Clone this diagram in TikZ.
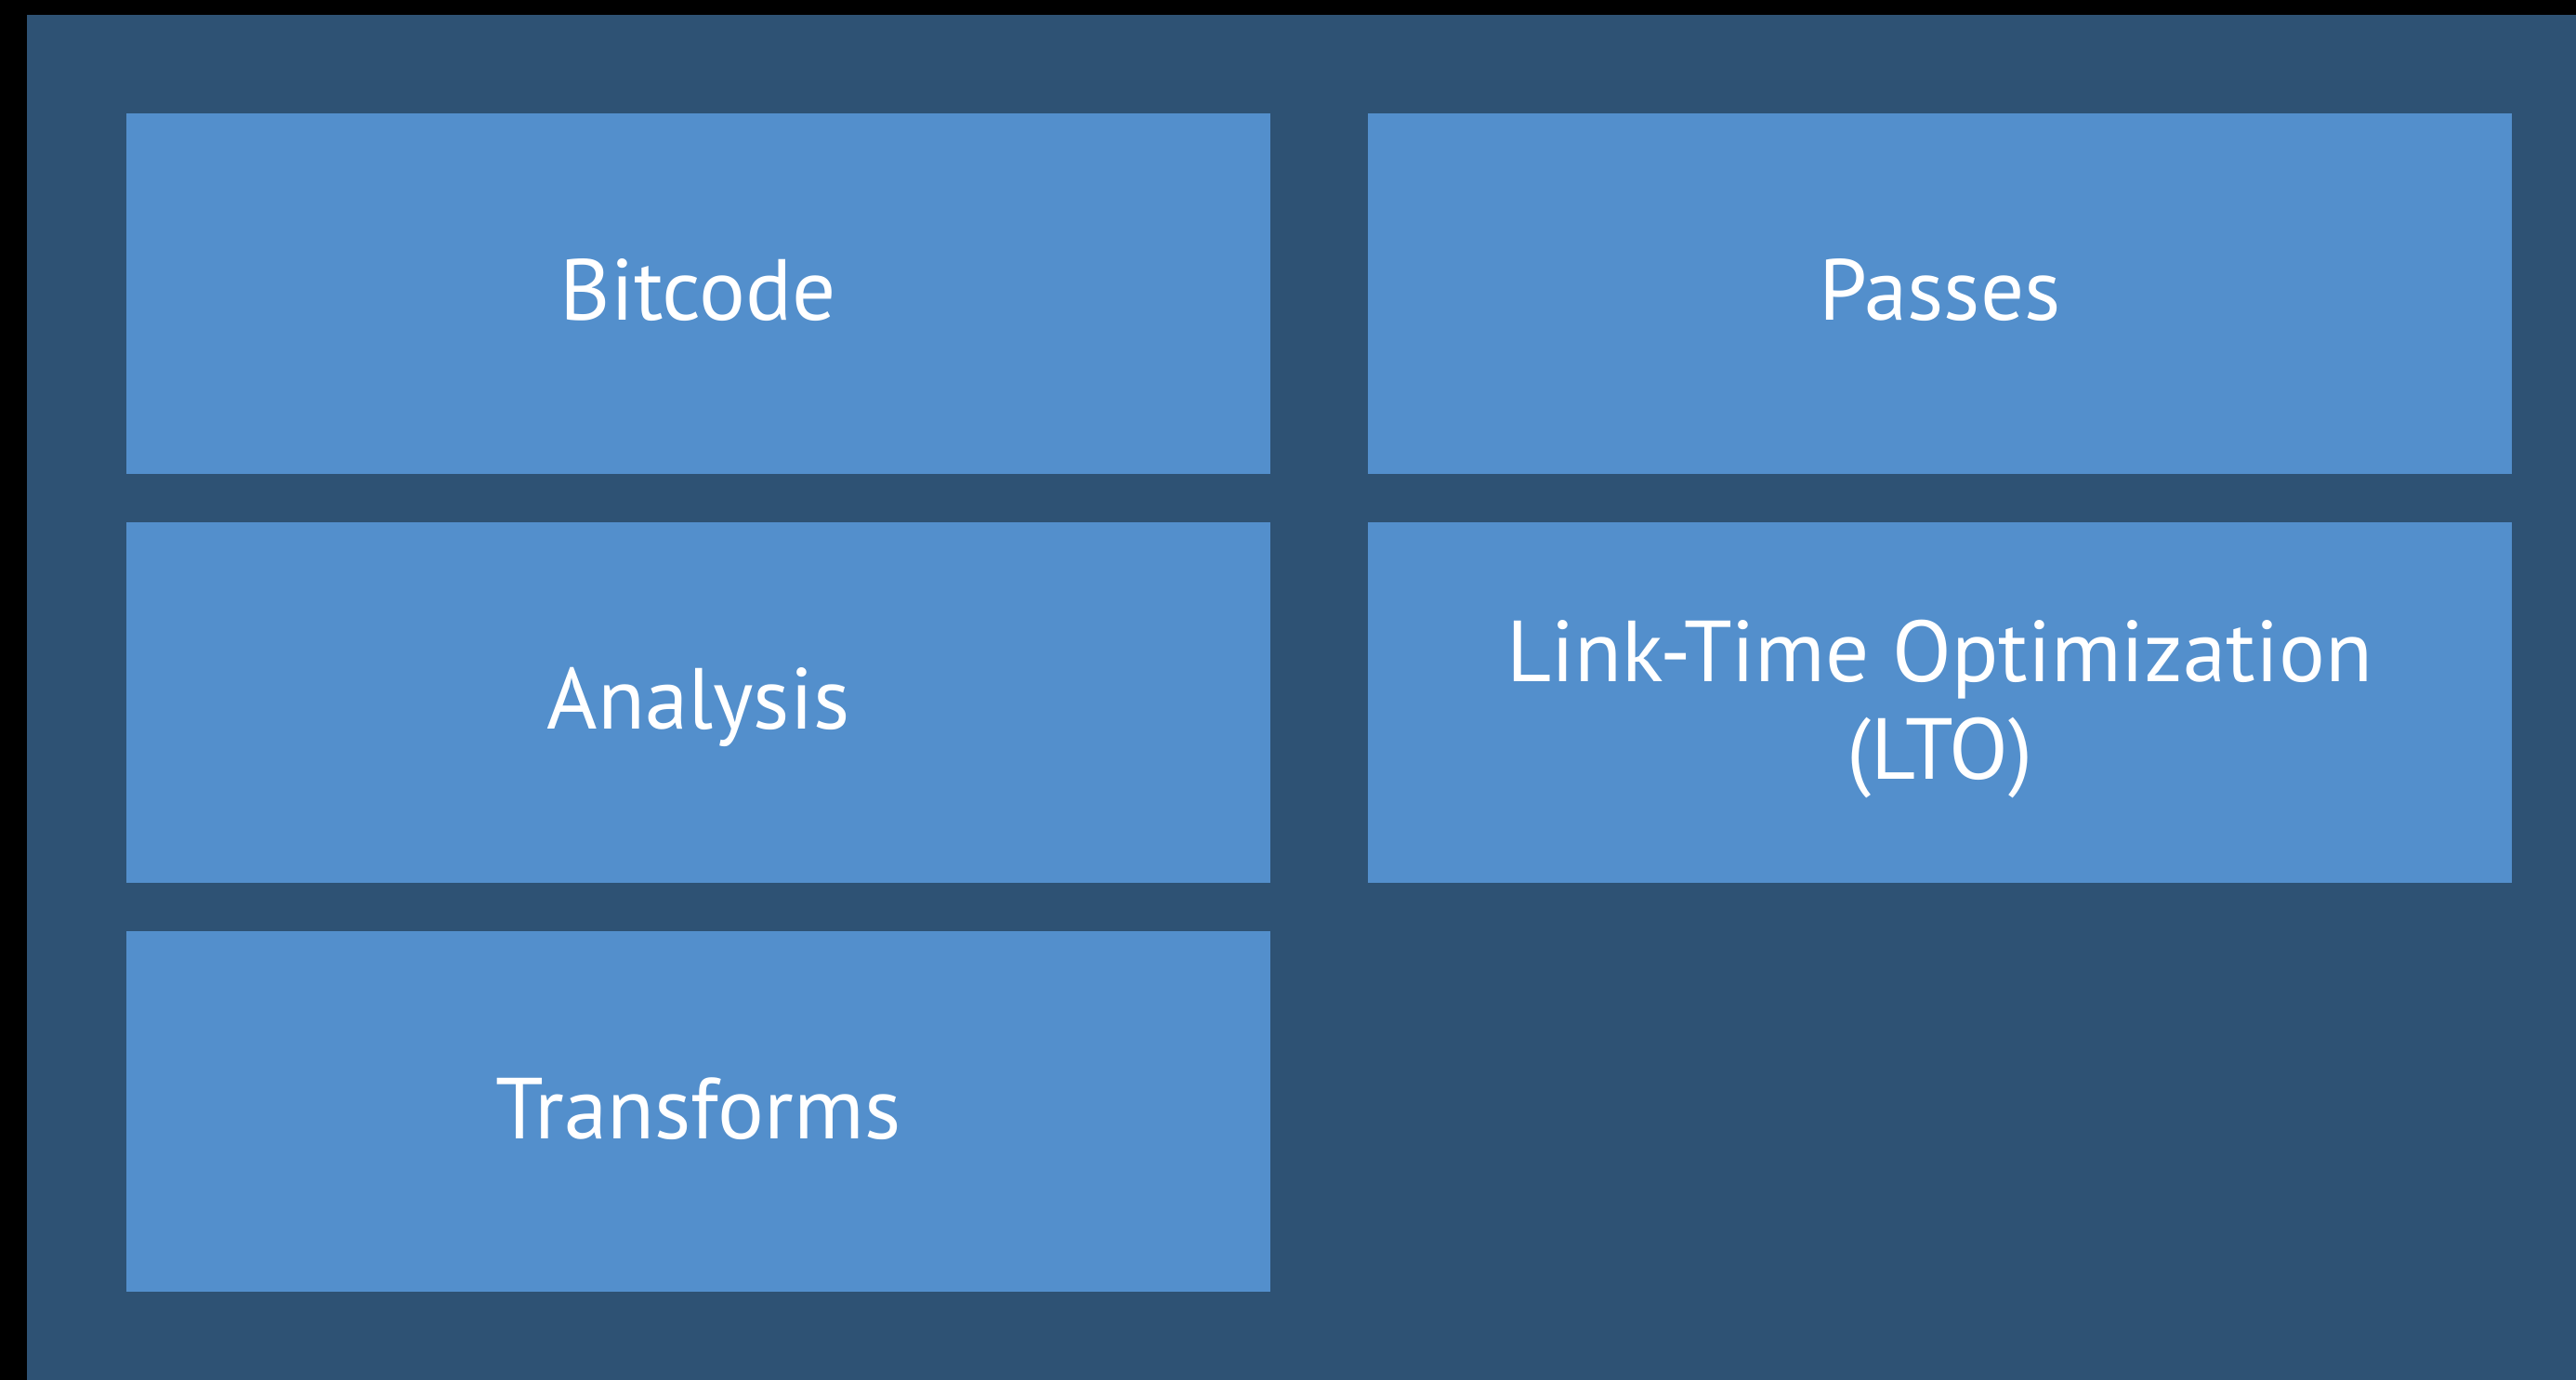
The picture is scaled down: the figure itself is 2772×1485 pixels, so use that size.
\documentclass[tikz,border=0pt]{standalone}
\usepackage{fontspec}
\setmainfont{PT Sans}
\usetikzlibrary{calc}
\definecolor{panelblue}{HTML}{2E5274}
\definecolor{tileblue}{HTML}{538FCC}
\begin{document}
\begin{tikzpicture}[x=0.25pt,y=-0.25pt,
  tile/.style={fill=tileblue,draw=none,inner sep=0pt,outer sep=0pt,
    minimum width=307.75pt,minimum height=97pt},
  caption/.style={text=white,font=\fontsize{23.3}{26.25}\selectfont,
    inner sep=0pt,align=center}]
  % black surround and the dark panel
  \fill[black] (0,0) rectangle (2772,1485);
  \fill[panelblue] (29,16) rectangle (2772,1485);
  \useasboundingbox (0,0) rectangle (2772,1485);
  % tiles, two columns
  \node[tile] (bitcode)    at (751.5,316) {};
  \node[tile] (analysis)   at (751.5,756) {};
  \node[tile] (transforms) at (751.5,1196) {};
  \node[tile] (passes)     at (2087.5,316) {};
  \node[tile] (lto)        at (2087.5,756) {};
  % captions, placed on their (last) baselines
  \node[caption,anchor=base] (tbitcode)    at ($(bitcode.center)+(0,29)$) {Bitcode};
  \node[caption,anchor=base] (tanalysis)   at ($(analysis.center)+(0,29)$) {Analysis};
  \node[caption,anchor=base] (ttransforms) at ($(transforms.center)+(0,29)$) {Transforms};
  \node[caption,anchor=base] (tpasses)     at ($(passes.center)+(0,29)$) {Passes};
  \node[caption,anchor=base] (tlto)        at ($(lto.center)+(0,83)$) {Link-Time Optimization\\(LTO)};
\end{tikzpicture}
\end{document}
